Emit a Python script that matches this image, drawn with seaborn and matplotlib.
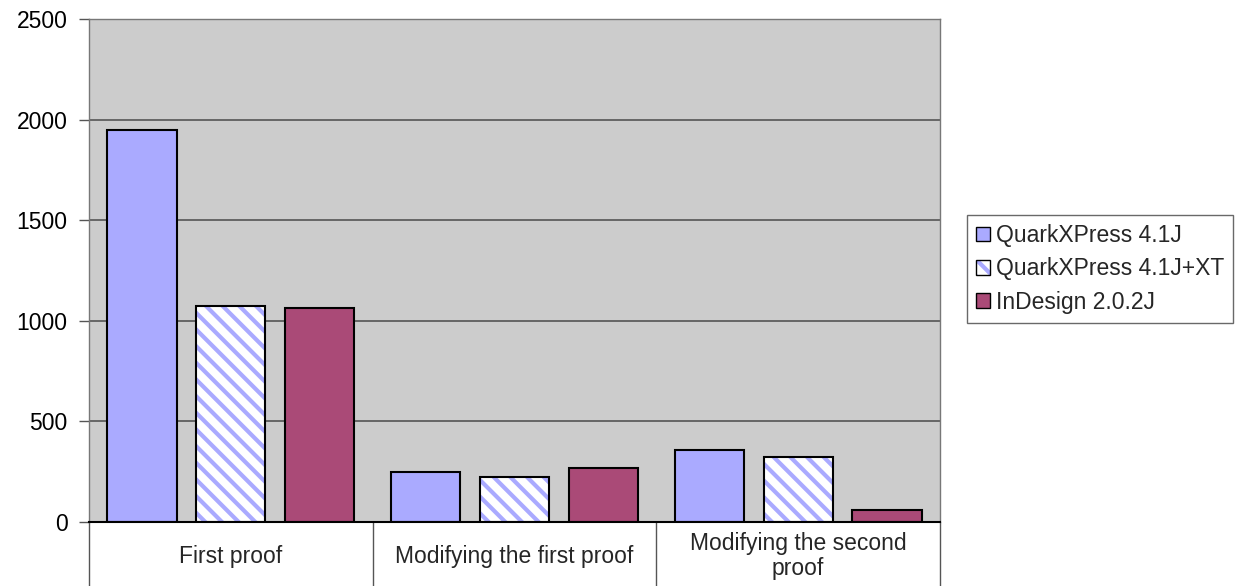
import pandas as pd
import numpy as np
import matplotlib
matplotlib.use('Agg')
import matplotlib.pyplot as plt
import matplotlib.transforms as mtransforms
from matplotlib.patches import Patch, Rectangle
from matplotlib.legend_handler import HandlerTuple
import seaborn as sns

# ── data ──
categories = ['First proof', 'Modifying the first proof', 'Modifying the second\nproof']
series = ['QuarkXPress 4.1J', 'QuarkXPress 4.1J+XT', 'InDesign 2.0.2J']
quark = [1950, 250, 358]
quark_xt = [1075, 225, 323]
indesign = [1065, 270, 58]
y_ticks = [0, 500, 1000, 1500, 2000, 2500]

COLORS = ['#AAAAFF', '#FFFFFF', '#AA4A77']
HATCH_COLOR = '#AAAAFF'
FS = 16.5

df = pd.DataFrame({
    'category': categories * 3,
    'series': [s for s in series for _ in categories],
    'value': quark + quark_xt + indesign,
})

sns.set_style('white')
plt.rcParams['font.family'] = ['Liberation Sans', 'DejaVu Sans']
plt.rcParams['hatch.linewidth'] = 3.0

fig = plt.figure(figsize=(12.41, 5.86), dpi=100)
ax = fig.add_axes([89 / 1241, 64 / 586, 851 / 1241, 503 / 586])
ax.set_facecolor('#CCCCCC')

sns.barplot(data=df, x='category', y='value', hue='series', order=categories,
            hue_order=series, palette=COLORS, width=0.94, gap=0.22,
            edgecolor='black', linewidth=1.5, saturation=1, legend=False,
            ax=ax, zorder=3)

# hatch the second series: white fill, blue stripes, black outline on top
n = len(categories)
for p in ax.patches[n:2 * n]:
    p.set_facecolor('white')
    p.set_edgecolor(HATCH_COLOR)
    p.set_hatch('\\\\')
    p.set_linewidth(0)
    ax.add_patch(Rectangle(p.get_xy(), p.get_width(), p.get_height(),
                           facecolor='none', edgecolor='black', linewidth=1.5,
                           zorder=4))

ax.set_ylim(0, 2500)
ax.set_xlim(-0.5, n - 0.5)
ax.set_yticks(y_ticks)
ax.yaxis.grid(True, color='#555555', linewidth=1.2, zorder=0)
ax.set_axisbelow(True)
ax.tick_params(axis='y', direction='out', length=7, width=1, color='#555555',
               labelsize=FS, labelcolor='black', pad=8.5, left=True)
ax.set_xticks(range(n))
ax.set_xticklabels([])
ax.tick_params(axis='x', length=0)
ax.set_xlabel('')
ax.set_ylabel('')

for side in ['left', 'top', 'right']:
    ax.spines[side].set_color('#777777')
    ax.spines[side].set_linewidth(1)
ax.spines['bottom'].set_color('black')
ax.spines['bottom'].set_linewidth(1.5)
ax.spines['bottom'].set_zorder(5)

# category "table" cells below the axis
trans = mtransforms.blended_transform_factory(ax.transData, ax.transAxes)
for xb in np.arange(-0.5, n, 1.0):
    ax.plot([xb, xb], [0, -0.13], transform=trans, color='#555555',
            linewidth=1, clip_on=False)
for i, cat in enumerate(categories):
    ax.text(i, -0.0676, cat, transform=trans, ha='center', va='center',
            fontsize=FS, linespacing=1.15)

handles = [Patch(facecolor=COLORS[0], edgecolor='black', linewidth=1),
           (Patch(facecolor='white', edgecolor=HATCH_COLOR, hatch='\\\\', linewidth=0),
            Patch(facecolor='none', edgecolor='black', linewidth=1)),
           Patch(facecolor=COLORS[2], edgecolor='black', linewidth=1)]
leg = fig.legend(handles, series, loc='center left',
                 bbox_to_anchor=(967 / 1241, (586 - 269) / 586),
                 fontsize=FS, frameon=True, fancybox=False,
                 edgecolor='#444444', handlelength=0.6, handleheight=0.6,
                 handletextpad=0.25, borderpad=0.4, labelspacing=0.45,
                 borderaxespad=0, handler_map={tuple: HandlerTuple(ndivide=1, pad=0)})
leg.get_frame().set_linewidth(1)

fig.savefig('out.png', dpi=100, facecolor='white')
